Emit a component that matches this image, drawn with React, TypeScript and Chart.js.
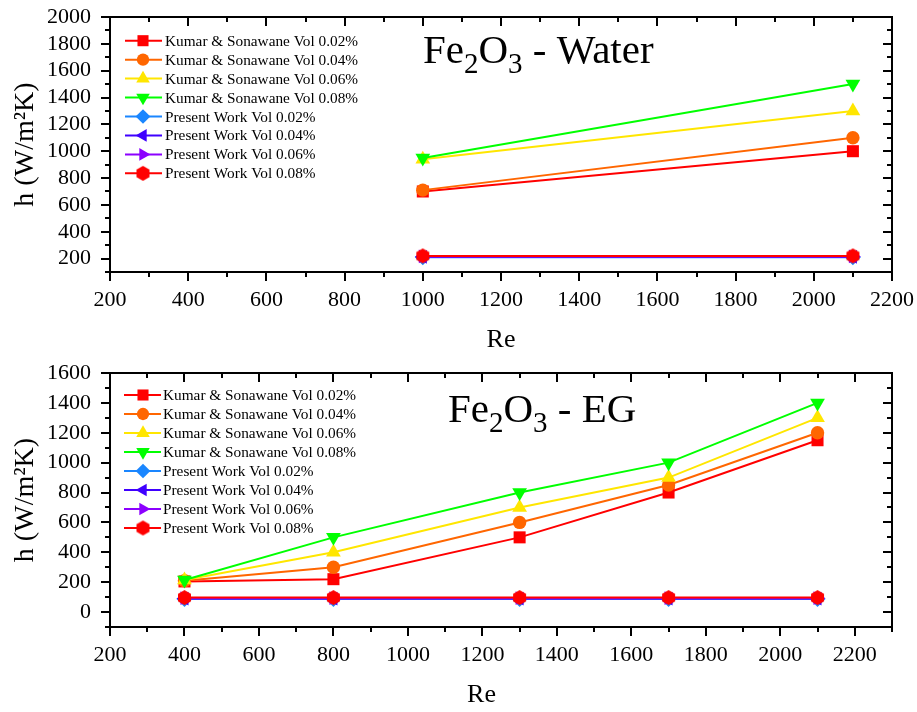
import React, { useEffect, useRef } from 'react';
import { Chart, registerables } from 'chart.js';
import { drawPoint } from 'chart.js/helpers';

Chart.register(...registerables);

// ---------- data ----------
const seriesLabels = [
  'Kumar & Sonawane Vol 0.02%',
  'Kumar & Sonawane Vol 0.04%',
  'Kumar & Sonawane Vol 0.06%',
  'Kumar & Sonawane Vol 0.08%',
  'Present Work Vol 0.02%',
  'Present Work Vol 0.04%',
  'Present Work Vol 0.06%',
  'Present Work Vol 0.08%',
];
const seriesColors = ['#FF0000', '#FF6600', '#FFE600', '#00FF00', '#1A86FF', '#3F00FF', '#8C00FF', '#FF0000'];
const seriesMarkers = ['rect', 'circle', 'triangle', 'triangle', 'rectRot', 'triangle', 'triangle', 'hexagon'];
const seriesRotations = [0, 0, 0, 180, 0, 270, 90, 0];
const seriesRadii = [8.5, 6.7, 8.5, 8.5, 8, 8, 8, 7.5];

// Fe2O3 - Water
const waterRe = [1000, 2100];
const waterKumar002 = [700, 1000];
const waterKumar004 = [710, 1100];
const waterKumar006 = [940, 1300];
const waterKumar008 = [950, 1500];
const waterPresent002 = [210, 210];
const waterPresent004 = [213, 213];
const waterPresent006 = [216, 216];
const waterPresent008 = [220, 220];

// Fe2O3 - EG
const egRe = [400, 800, 1300, 1700, 2100];
const egKumar002 = [205, 220, 500, 800, 1150];
const egKumar004 = [210, 300, 600, 850, 1200];
const egKumar006 = [215, 400, 700, 900, 1300];
const egKumar008 = [215, 500, 800, 1000, 1400];
const egPresent002 = [88, 88, 88, 88, 88];
const egPresent004 = [90, 90, 90, 90, 90];
const egPresent006 = [93, 93, 93, 93, 93];
const egPresent008 = [97, 97, 97, 97, 97];

// axes / ticks
const waterXTicks = [200, 400, 600, 800, 1000, 1200, 1400, 1600, 1800, 2000, 2200];
const waterXTickLabels = ['200', '400', '600', '800', '1000', '1200', '1400', '1600', '1800', '2000', '2200'];
const waterYTicks = [200, 400, 600, 800, 1000, 1200, 1400, 1600, 1800, 2000];
const waterYTickLabels = ['200', '400', '600', '800', '1000', '1200', '1400', '1600', '1800', '2000'];
const egXTicks = [200, 400, 600, 800, 1000, 1200, 1400, 1600, 1800, 2000, 2200];
const egXTickLabels = ['200', '400', '600', '800', '1000', '1200', '1400', '1600', '1800', '2000', '2200'];
const egYTicks = [0, 200, 400, 600, 800, 1000, 1200, 1400, 1600];
const egYTickLabels = ['0', '200', '400', '600', '800', '1000', '1200', '1400', '1600'];
const waterXRange = [200, 2200];
const waterYRange = [100, 2000];
const egXRange = [200, 2300];
const egYRange = [-100, 1600];
const minorStep = 100;

const xTitle = 'Re';
const yTitle = 'h (W/m²K)';
const waterTitle = ['Fe', '2', 'O', '3', ' - Water'];
const egTitle = ['Fe', '2', 'O', '3', ' - EG'];

const FONT = "'Liberation Serif', 'Times New Roman', Times, serif";

function makeHexagon(color: string, r: number) {
  const size = Math.ceil(r * 2 + 2);
  const c = document.createElement('canvas');
  c.width = size;
  c.height = size;
  const g = c.getContext('2d')!;
  g.fillStyle = color;
  g.beginPath();
  for (let i = 0; i < 6; i++) {
    const a = (Math.PI / 3) * i - Math.PI / 2;
    const px = size / 2 + r * Math.cos(a);
    const py = size / 2 + r * Math.sin(a);
    if (i === 0) g.moveTo(px, py);
    else g.lineTo(px, py);
  }
  g.closePath();
  g.fill();
  return c;
}

const framePlugin = {
  id: 'frameTicks',
  afterDatasetsDraw(chart: any) {
    const { ctx, chartArea } = chart;
    const { left, right, top, bottom } = chartArea;
    const xs = chart.scales.x;
    const ys = chart.scales.y;
    const MAJ = 9;
    const MIN = 5;
    ctx.save();
    ctx.strokeStyle = '#000';
    ctx.lineWidth = 2;
    const line = (x1: number, y1: number, x2: number, y2: number) => {
      ctx.beginPath();
      ctx.moveTo(x1, y1);
      ctx.lineTo(x2, y2);
      ctx.stroke();
    };
    const xMaj = xs.ticks.map((t: any) => t.value);
    for (let v = xs.min; v <= xs.max + 1e-6; v += minorStep) {
      const len = xMaj.includes(v) ? MAJ : MIN;
      const px = Math.round(xs.getPixelForValue(v));
      line(px, bottom, px, bottom + len);
      line(px, top, px, top + len);
    }
    const yMaj = ys.ticks.map((t: any) => t.value);
    for (let v = ys.min; v <= ys.max + 1e-6; v += minorStep) {
      const len = yMaj.includes(v) ? MAJ : MIN;
      const py = Math.round(ys.getPixelForValue(v));
      line(left - len, py, left, py);
      line(right - len, py, right, py);
    }
    ctx.strokeRect(left, top, right - left, bottom - top);
    ctx.restore();
  },
};

const overlayPlugin = {
  id: 'overlay',
  afterDraw(chart: any, _args: any, opts: any) {
    const ctx = chart.ctx;
    ctx.save();
    // legend
    const ds = chart.data.datasets;
    ds.forEach((d: any, i: number) => {
      const y = opts.legendY + i * opts.legendDy;
      ctx.strokeStyle = d.borderColor;
      ctx.lineWidth = 2;
      ctx.beginPath();
      ctx.moveTo(opts.legendX1, y);
      ctx.lineTo(opts.legendX2, y);
      ctx.stroke();
      ctx.fillStyle = d.backgroundColor;
      drawPoint(ctx, { pointStyle: d.pointStyle, rotation: d.pointRotation, radius: d.pointRadius * 0.92, borderWidth: 0 }, opts.legendXM, y);
      ctx.fillStyle = '#000';
      ctx.font = `${opts.legendSize}px ${FONT}`;
      ctx.textBaseline = 'middle';
      ctx.textAlign = 'left';
      ctx.fillText(d.label, opts.legendTX, y + 1);
    });
    // title with subscripts
    let x = opts.titleX;
    const base = opts.titleY;
    ctx.fillStyle = '#000';
    ctx.textBaseline = 'alphabetic';
    (opts.title as string[]).forEach((part, i) => {
      const sub = i === 1 || i === 3;
      ctx.font = `${sub ? opts.titleSub : opts.titleSize}px ${FONT}`;
      ctx.fillText(part, x, sub ? base + opts.subShift : base);
      x += ctx.measureText(part).width;
    });
    ctx.restore();
  },
};

function buildDatasets(xs: number[], series: number[][], hexagon: HTMLCanvasElement) {
  return series.map((vals, i) => ({
    label: seriesLabels[i],
    data: xs.map((x, k) => ({ x, y: vals[k] })),
    borderColor: seriesColors[i],
    backgroundColor: seriesColors[i],
    borderWidth: 2,
    pointStyle: seriesMarkers[i] === 'hexagon' ? hexagon : seriesMarkers[i],
    pointRotation: seriesRotations[i],
    pointRadius: seriesRadii[i],
    pointBorderWidth: 0,
    pointBackgroundColor: seriesColors[i],
    tension: 0,
    order: -i,
    clip: false,
  }));
}

function zeroPad(s: any) {
  s.paddingTop = 0;
  s.paddingBottom = 0;
  s.paddingLeft = 0;
  s.paddingRight = 0;
}

function makeConfig(opts: any) {
  return {
    type: 'line',
    data: { datasets: opts.datasets },
    options: {
      responsive: false,
      maintainAspectRatio: false,
      devicePixelRatio: 1,
      animation: false,
      events: [],
      layout: { padding: { top: 17, right: 25, left: 0, bottom: 0 } },
      plugins: {
        legend: { display: false },
        tooltip: { enabled: false },
        overlay: opts.overlay,
      },
      scales: {
        x: {
          type: 'linear',
          position: 'bottom',
          min: opts.xRange[0],
          max: opts.xRange[1],
          afterBuildTicks: (s: any) => { s.ticks = opts.xTicks.map((v: number) => ({ value: v })); },
          afterFit: (s: any) => { s.height = opts.xHeight; zeroPad(s); },
          grid: { display: false, drawTicks: false, tickLength: 0 },
          border: { display: false },
          ticks: {
            autoSkip: false,
            maxRotation: 0,
            padding: 15,
            color: '#000',
            font: { family: FONT, size: 22 },
            callback: (v: number) => opts.xTickLabels[opts.xTicks.indexOf(v)] ?? '',
          },
          title: {
            display: true,
            text: opts.xTitleText,
            color: '#000',
            font: { family: FONT, size: 26 },
            padding: { top: 0, bottom: opts.xTitlePad },
          },
        },
        y: {
          type: 'linear',
          position: 'left',
          min: opts.yRange[0],
          max: opts.yRange[1],
          afterBuildTicks: (s: any) => { s.ticks = opts.yTicks.map((v: number) => ({ value: v })); },
          afterFit: (s: any) => { s.width = 110; zeroPad(s); },
          grid: { display: false, drawTicks: false, tickLength: 0 },
          border: { display: false },
          ticks: {
            autoSkip: false,
            padding: 19,
            color: '#000',
            font: { family: FONT, size: 22 },
            callback: (v: number) => opts.yTickLabels[opts.yTicks.indexOf(v)] ?? '',
          },
          title: {
            display: true,
            text: yTitle,
            color: '#000',
            font: { family: FONT, size: 28 },
            padding: { top: 9, bottom: 0 },
          },
        },
      },
    },
    plugins: [framePlugin, overlayPlugin],
  };
}

export default function App() {
  const topRef = useRef<HTMLCanvasElement>(null);
  const botRef = useRef<HTMLCanvasElement>(null);

  useEffect(() => {
    document.body.style.margin = '0';
    const hex = makeHexagon('#FF0000', 7.5);
    const waterSeries = [waterKumar002, waterKumar004, waterKumar006, waterKumar008, waterPresent002, waterPresent004, waterPresent006, waterPresent008];
    const egSeries = [egKumar002, egKumar004, egKumar006, egKumar008, egPresent002, egPresent004, egPresent006, egPresent008];

    const c1 = new Chart(topRef.current as any, makeConfig({
      datasets: buildDatasets(waterRe, waterSeries, hex),
      xRange: waterXRange, yRange: waterYRange, xTicks: waterXTicks, yTicks: waterYTicks,
      xTickLabels: waterXTickLabels, yTickLabels: waterYTickLabels,
      xHeight: 84, xTitleText: xTitle, xTitlePad: 0,
      overlay: {
        legendY: 40.7, legendDy: 18.95, legendX1: 125, legendX2: 162, legendXM: 143, legendTX: 165, legendSize: 15.3,
        title: waterTitle, titleX: 423, titleY: 63, titleSize: 41, titleSub: 29, subShift: 10,
      },
    }) as any);
    const c2 = new Chart(botRef.current as any, makeConfig({
      datasets: buildDatasets(egRe, egSeries, hex),
      xRange: egXRange, yRange: egYRange, xTicks: egXTicks, yTicks: egYTicks,
      xTickLabels: egXTickLabels, yTickLabels: egYTickLabels,
      xHeight: 85, xTitleText: xTitle + '\u00A0\u00A0\u00A0\u00A0\u00A0\u00A0', xTitlePad: 1,
      overlay: {
        legendY: 39, legendDy: 19, legendX1: 124, legendX2: 161, legendXM: 143, legendTX: 163, legendSize: 15.3,
        title: egTitle, titleX: 448, titleY: 65.5, titleSize: 41, titleSub: 29, subShift: 10,
      },
    }) as any);
    return () => {
      c1.destroy();
      c2.destroy();
    };
  }, []);

  return (
    <div style={{ width: 917, height: 712, background: '#fff' }}>
      <canvas ref={topRef} width={917} height={356} style={{ display: 'block' }} />
      <canvas ref={botRef} width={917} height={356} style={{ display: 'block' }} />
    </div>
  );
}
